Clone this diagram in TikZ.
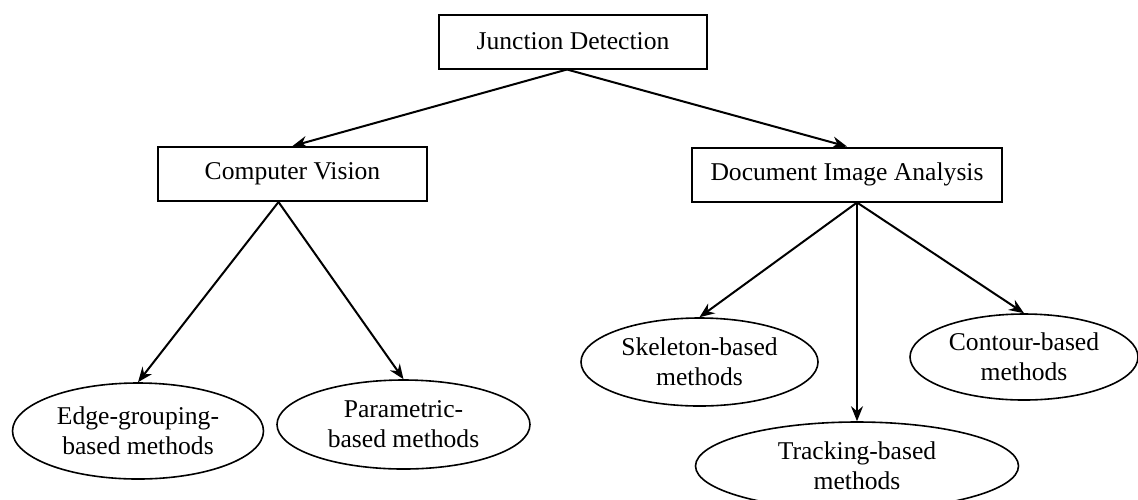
\documentclass[tikz,border=0pt]{standalone}
\usepackage{fontspec}
\setmainfont{Liberation Serif}
\usepackage{tikz}
\usetikzlibrary{shapes.geometric,arrows.meta}

\tikzset{
  topic/.style={draw, line width=1pt, rectangle, inner sep=0pt, minimum height=27pt},
  method/.style={draw, line width=0.8pt, ellipse, inner sep=0pt, align=center},
  arr/.style={line width=1pt, -{Stealth[length=7.5pt,width=6pt,inset=2.5pt]}}
}

\begin{document}
\begin{tikzpicture}[x=0.5pt, y=-0.5pt, font=\fontsize{12.8}{15}\selectfont]
\clip (0,0) rectangle (1138,499);
\node[topic, minimum width=134pt] (jd) at (573,41.5) {Junction Detection};
\node[topic, minimum width=134.5pt] (cv) at (292.5,174) {Computer Vision};
\node[topic, minimum width=155pt] (dia) at (847,174.5) {Document Image Analysis};
\node[method, minimum width=125.5pt, minimum height=48pt] (edge) at (138,431) {Edge-grouping-\\based methods};
\node[method, minimum width=126.5pt, minimum height=44.5pt] (param) at (403.5,424.5) {Parametric-\\based methods};
\node[method, minimum width=118.5pt, minimum height=44pt] (skel) at (699.5,362) {Skeleton-based\\methods};
\node[method, minimum width=161.5pt, minimum height=44pt] (track) at (857,466) {Tracking-based\\methods};
\node[method, minimum width=114pt, minimum height=43pt] (cont) at (1024,357) {Contour-based\\methods};
\coordinate (jdfoot) at ([xshift=-3pt]jd.south);
\coordinate (cvfoot) at ([xshift=-7pt]cv.south);
\coordinate (diafoot) at ([xshift=5pt]dia.south);
\draw[arr] (jdfoot) -- (cv.north);
\draw[arr] (jdfoot) -- (dia.north);
\draw[arr] (cvfoot) -- (edge.north);
\draw[arr] (cvfoot) -- (param.north);
\draw[arr] (diafoot) -- (skel.north);
\draw[arr] (diafoot) -- (track.north);
\draw[arr] (diafoot) -- (cont.north);
\end{tikzpicture}
\end{document}
